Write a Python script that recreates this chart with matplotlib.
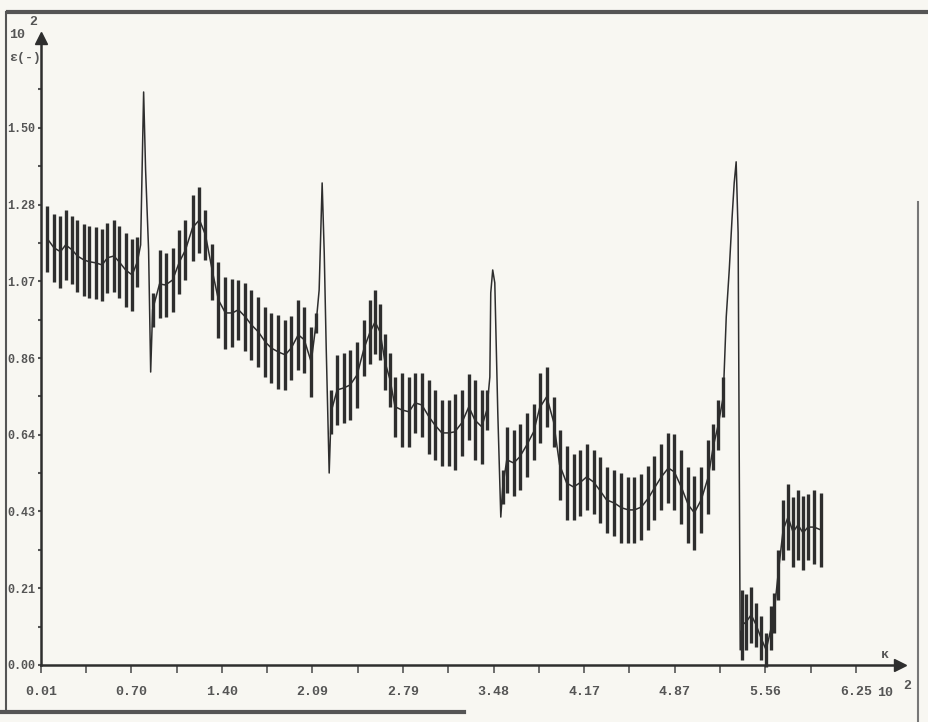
import matplotlib.pyplot as plt
from matplotlib.lines import Line2D

# readings (x in 10^2, y in 10^2)
x = [0.06, 0.11, 0.16, 0.20, 0.25, 0.29, 0.34, 0.38, 0.43, 0.48, 0.52, 0.57, 0.61, 0.66, 0.71, 0.75,
     0.775, 0.798, 0.813, 0.836, 0.852,
     0.867, 0.920, 0.966, 1.020, 1.073, 1.119, 1.173, 1.226, 1.272, 1.326, 1.372, 1.425, 1.479,
     1.525, 1.578, 1.624, 1.678, 1.731, 1.777, 1.831, 1.884, 1.930, 1.984, 2.030, 2.083, 2.121,
     2.144, 2.167, 2.183, 2.198, 2.221,
     2.236, 2.282, 2.336, 2.382, 2.435, 2.489, 2.535, 2.573, 2.611, 2.649, 2.688, 2.726, 2.779,
     2.833, 2.879, 2.932, 2.986, 3.032, 3.085, 3.139, 3.185, 3.238, 3.292, 3.338, 3.391, 3.430,
     3.453, 3.460, 3.475, 3.491, 3.506, 3.514, 3.537,
     3.552, 3.583, 3.636, 3.682, 3.736, 3.789, 3.835, 3.889, 3.942, 3.988, 4.042, 4.095, 4.141,
     4.195, 4.248, 4.294, 4.348, 4.409, 4.462, 4.516, 4.562, 4.615, 4.669, 4.715, 4.768, 4.822,
     4.868, 4.921, 4.975, 5.021, 5.074, 5.128, 5.166, 5.204, 5.243,
     5.266, 5.289, 5.311, 5.327, 5.342, 5.357, 5.365, 5.373,
     5.388, 5.419, 5.457, 5.495, 5.533, 5.572, 5.610, 5.633, 5.663, 5.702, 5.740, 5.778, 5.816,
     5.855, 5.893, 5.939, 5.992]

y = [1.190, 1.165, 1.154, 1.173, 1.159, 1.142, 1.131, 1.126, 1.123, 1.117, 1.137, 1.142, 1.126, 1.103, 1.089, 1.126,
     1.173, 1.600, 1.383, 1.159, 0.818,
     0.992, 1.064, 1.061, 1.075, 1.126, 1.159, 1.221, 1.243, 1.201, 1.098, 1.019, 0.983, 0.983,
     0.992, 0.972, 0.950, 0.930, 0.902, 0.885, 0.874, 0.866, 0.885, 0.922, 0.908, 0.846, 0.955,
     1.047, 1.346, 1.151, 0.888, 0.536,
     0.707, 0.768, 0.774, 0.782, 0.810, 0.885, 0.930, 0.958, 0.930, 0.846, 0.796, 0.721, 0.712,
     0.707, 0.732, 0.726, 0.693, 0.670, 0.648, 0.648, 0.651, 0.676, 0.721, 0.684, 0.665, 0.712,
     0.804, 1.039, 1.103, 1.067, 0.832, 0.704, 0.413,
     0.497, 0.573, 0.564, 0.581, 0.614, 0.651, 0.718, 0.749, 0.679, 0.559, 0.508, 0.497, 0.508,
     0.525, 0.511, 0.489, 0.461, 0.452, 0.439, 0.433, 0.433, 0.441, 0.466, 0.494, 0.525, 0.550,
     0.539, 0.497, 0.447, 0.425, 0.461, 0.525, 0.609, 0.670, 0.749,
     0.972, 1.103, 1.251, 1.346, 1.405, 1.207, 0.600, 0.042,
     0.112, 0.120, 0.140, 0.112, 0.075, 0.042, 0.103, 0.145, 0.251, 0.377, 0.413, 0.371, 0.391,
     0.369, 0.385, 0.385, 0.377]

# half length of the bars, 0 where only the line was drawn
err = [0.092, 0.095, 0.101, 0.098, 0.095, 0.101, 0.101, 0.101, 0.101, 0.101, 0.098, 0.101, 0.101, 0.103, 0.101, 0.070,
       0, 0, 0, 0, 0,
       0.047, 0.095, 0.089, 0.089, 0.089, 0.084, 0.092, 0.092, 0.070, 0.078, 0.106, 0.101, 0.095,
       0.084, 0.095, 0.098, 0.098, 0.098, 0.098, 0.103, 0.098, 0.089, 0.098, 0.092, 0.098, 0.028,
       0, 0, 0, 0, 0,
       0.061, 0.098, 0.098, 0.098, 0.092, 0.078, 0.089, 0.089, 0.078, 0.078, 0.075, 0.084, 0.103,
       0.098, 0.084, 0.089, 0.103, 0.098, 0.092, 0.092, 0.106, 0.092, 0.092, 0.112, 0.103, 0.056,
       0, 0, 0, 0, 0, 0, 0,
       0.047, 0.092, 0.092, 0.092, 0.089, 0.078, 0.098, 0.084, 0.070, 0.098, 0.103, 0.092, 0.092,
       0.092, 0.089, 0.092, 0.092, 0.092, 0.098, 0.092, 0.092, 0.092, 0.089, 0.089, 0.092, 0.098,
       0.106, 0.103, 0.106, 0.103, 0.092, 0.103, 0.064, 0.070, 0.056,
       0, 0, 0, 0, 0, 0, 0, 0,
       0.098, 0.078, 0.078, 0.061, 0.061, 0.047, 0.061, 0.056, 0.070, 0.084, 0.092, 0.098, 0.098,
       0.103, 0.092, 0.103, 0.103]

x_ticks = [0.01, 0.704, 1.399, 2.093, 2.788, 3.482, 4.177, 4.871, 5.566, 6.26]
x_labels = ['0.01', '0.70', '1.40', '2.09', '2.79', '3.48', '4.17', '4.87', '5.56', '6.25']
x_minor = [0.357, 1.051, 1.746, 2.440, 3.135, 3.829, 4.524, 5.218, 5.913]

y_ticks = [0.0, 0.2143, 0.4286, 0.6429, 0.8571, 1.0714, 1.2857, 1.5]
y_labels = ['0.00', '0.21', '0.43', '0.64', '0.86', '1.07', '1.28', '1.50']
y_minor = [0.107, 0.321, 0.536, 0.75, 0.964, 1.179, 1.393, 1.607]

ink = '#2e2e2e'
grey = '#555555'
paper = '#f8f7f2'
font = dict(family='Liberation Mono', weight='bold', size=9.5, color=grey)
small = dict(font, size=8.5)

fig = plt.figure(figsize=(9.29, 7.22), dpi=100, facecolor=paper)
ax = fig.add_axes([0.044, 0.079, 0.925, 0.868], facecolor=paper)

# trace with its error bars
ax.errorbar(x, y, yerr=err, fmt='-', color=ink, lw=1.1, elinewidth=2.4, capsize=0, clip_on=False)

ax.set_xlim(0.01, 6.60)
ax.set_ylim(0.0, 1.75)

for side in ['top', 'right']:
    ax.spines[side].set_visible(False)
for side in ['left', 'bottom']:
    ax.spines[side].set_color(ink)
    ax.spines[side].set_linewidth(1.8)

# arrow heads on both axes
ax.plot([0], [1], marker='^', ms=8, color=ink, transform=ax.transAxes, clip_on=False)
ax.plot([1], [0], marker='>', ms=8, color=ink, transform=ax.transAxes, clip_on=False)

ax.set_xticks(x_ticks, x_labels)
ax.set_xticks(x_minor, minor=True)
ax.set_yticks(y_ticks, y_labels)
ax.set_yticks(y_minor, minor=True)
ax.tick_params(axis='x', which='both', direction='out', length=6, width=1.2, color=grey, pad=9)
ax.tick_params(axis='y', which='both', direction='out', length=2, width=1.5, color=grey, pad=2)
for lab in ax.get_xticklabels():
    lab.set(**font)
for lab in ax.get_yticklabels():
    lab.set(**small)

# units in the corners
fig.text(0.010, 0.948, '10', **font)
fig.text(0.032, 0.966, '2', **font)
fig.text(0.010, 0.916, 'ε(-)', **font)
fig.text(0.944, 0.036, '10', **font)
fig.text(0.972, 0.046, '2', **font)
fig.text(0.948, 0.088, 'κ', **font)

# border of the scanned sheet
fig.add_artist(Line2D([0.009, 1.0], [0.983, 0.983], color=grey, lw=3))
fig.add_artist(Line2D([0.006, 0.006], [0.014, 0.983], color=grey, lw=1.5))
fig.add_artist(Line2D([0.0, 0.5], [0.014, 0.014], color=grey, lw=3))
fig.add_artist(Line2D([0.988, 0.988], [0.0, 0.72], color='#777777', lw=1.5))

fig.savefig('out.png', dpi=100, facecolor=paper)
